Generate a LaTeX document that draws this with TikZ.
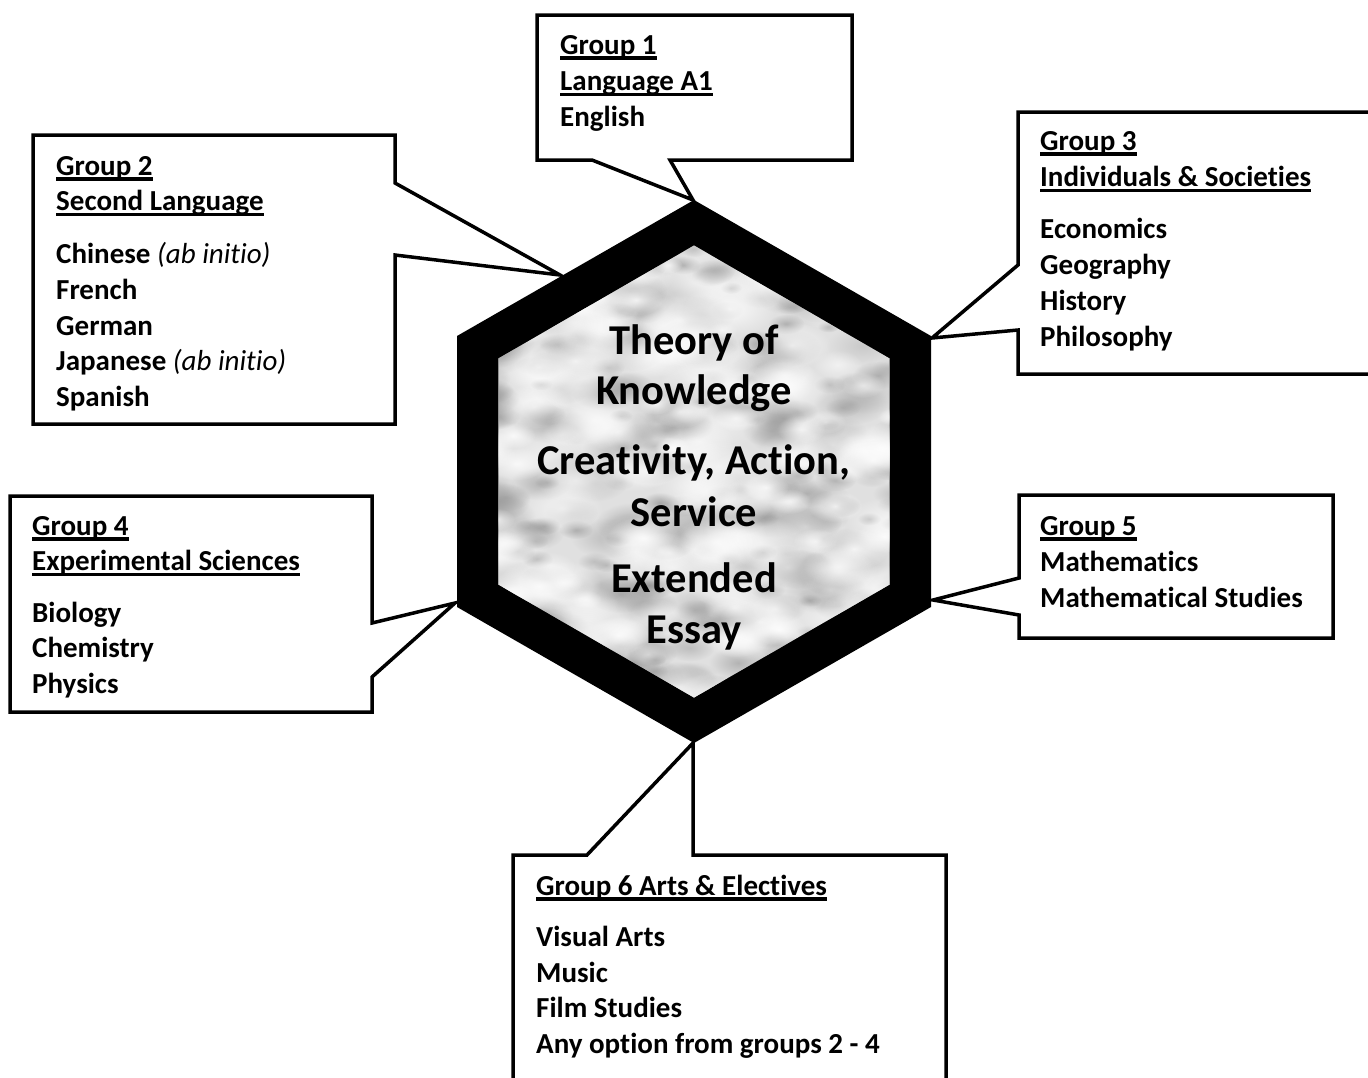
\documentclass[tikz,border=0pt]{standalone}
\usepackage{fontspec}
\setmainfont{Carlito}[Ligatures=NoCommon]
\usetikzlibrary{fadings}
\tikzfading[name=softblob, inner color=transparent!0, outer color=transparent!100]
\newcommand\gul[1]{\leavevmode\setbox0\hbox{#1}\rlap{\vrule height -0.08em depth 0.2em width \wd0}\box0}
\begin{document}
\begin{tikzpicture}[x=1pt,y=-1pt,line join=miter,
  callout/.style={draw=black,fill=white,line width=3.5pt},
  lbl/.style={anchor=base west,inner sep=0pt,font=\fontsize{29}{35}\selectfont\bfseries},
  core/.style={anchor=base,inner sep=0pt,font=\fontsize{42.5}{50}\selectfont\bfseries}]
\useasboundingbox (0,0) rectangle (1368,1077);
\clip (0,0) rectangle (1368,1077);
\fill[white] (0,0) rectangle (1368,1077);

% Group 1
\draw[callout] (537,15) -- (852,15) -- (852,160) -- (670,160) -- (693,200) -- (592,160) -- (537,160) -- cycle;
% Group 2
\draw[callout] (33,135) -- (395,135) -- (395,183) -- (560,275) -- (395,255) -- (395,424) -- (33,424) -- cycle;
% Group 3
\draw[callout] (1018,112) -- (1380,112) -- (1380,374) -- (1018,374) -- (1018,330) -- (932,338) -- (1018,265) -- cycle;
% Group 4
\draw[callout] (10,496) -- (372,496) -- (372,623) -- (455,603) -- (372,677) -- (372,712) -- (10,712) -- cycle;
% Group 5
\draw[callout] (1019,495) -- (1333,495) -- (1333,638) -- (1019,638) -- (1019,615) -- (933,600) -- (1019,578) -- cycle;
% Group 6
\draw[callout] (513,855) -- (587,855) -- (693,743) -- (693,855) -- (946,855) -- (946,1100) -- (513,1100) -- cycle;

% Hexagon
\fill[black] (694,200) -- (931,336) -- (931,607) -- (694,743) -- (457,607) -- (457,336) -- cycle;
\begin{scope}
\clip (694,245.5) -- (889.7,358.5) -- (889.7,584.5) -- (694,697.5) -- (498.3,584.5) -- (498.3,358.5) -- cycle;
\fill[black!12] (480,230) rectangle (910,710);
\pgfmathsetseed{11}
\foreach \i in {1,...,320}{
  \pgfmathsetmacro\xx{694+rand*215}
  \pgfmathsetmacro\yy{471+rand*235}
  \pgfmathsetmacro\rr{6+rnd*16}
  \pgfmathsetmacro\op{0.25+rnd*0.45}
  \fill[black!45, opacity=\op, path fading=softblob] (\xx,\yy) ellipse ({1.8*\rr pt} and {\rr pt});
}
\foreach \i in {1,...,200}{
  \pgfmathsetmacro\xx{694+rand*215}
  \pgfmathsetmacro\yy{471+rand*235}
  \pgfmathsetmacro\rr{8+rnd*20}
  \pgfmathsetmacro\op{0.4+rnd*0.45}
  \fill[white, opacity=\op, path fading=softblob] (\xx,\yy) ellipse ({1.7*\rr pt} and {\rr pt});
}
\end{scope}

% Core text
\node[core] (tok1) at (694,354) {Theory of};
\node[core] (tok2) at (694,404) {Knowledge};
\node[core] (cas1) at (694,474) {Creativity, Action,};
\node[core] (cas2) at (694,526) {Service};
\node[core] (ee1) at (694,592) {Extended};
\node[core] (ee2) at (694,643) {Essay};

% Group 1 text
\node[lbl] (g1a) at (560,54) {\gul{Group 1}};
\node[lbl] (g1b) at (560,90.5) {\gul{Language A1}};
\node[lbl] (g1c) at (560,126) {English};

% Group 2 text
\node[lbl] (g2a) at (56,175) {\gul{Group 2}};
\node[lbl] (g2b) at (56,210.5) {\gul{Second Language}};
\node[lbl] (g2c) at (56,263) {Chinese \textit{\mdseries(ab initio)}};
\node[lbl] (g2d) at (56,299) {French};
\node[lbl] (g2e) at (56,335) {German};
\node[lbl] (g2f) at (56,370.5) {Japanese \textit{\mdseries(ab initio)}};
\node[lbl] (g2g) at (56,406) {Spanish};

% Group 3 text
\node[lbl] (g3a) at (1040,150) {\gul{Group 3}};
\node[lbl] (g3b) at (1040,186.5) {\gul{Individuals \& Societies}};
\node[lbl] (g3c) at (1040,238) {Economics};
\node[lbl] (g3d) at (1040,274) {Geography};
\node[lbl] (g3e) at (1040,310) {History};
\node[lbl] (g3f) at (1040,346) {Philosophy};

% Group 4 text
\node[lbl] (g4a) at (32,535) {\gul{Group 4}};
\node[lbl] (g4b) at (32,570.5) {\gul{Experimental Sciences}};
\node[lbl] (g4c) at (32,622) {Biology};
\node[lbl] (g4d) at (32,657.5) {Chemistry};
\node[lbl] (g4e) at (32,693) {Physics};

% Group 5 text
\node[lbl] (g5a) at (1040,535) {\gul{Group 5}};
\node[lbl] (g5b) at (1040,571) {Mathematics};
\node[lbl] (g5c) at (1040,607) {Mathematical Studies};

% Group 6 text
\node[lbl] (g6a) at (536,895) {\gul{Group 6 Arts \& Electives}};
\node[lbl] (g6b) at (536,946.5) {Visual Arts};
\node[lbl] (g6c) at (536,982) {Music};
\node[lbl] (g6d) at (536,1017.5) {Film Studies};
\node[lbl] (g6e) at (536,1053) {Any option from groups 2 - 4};
\end{tikzpicture}
\end{document}
